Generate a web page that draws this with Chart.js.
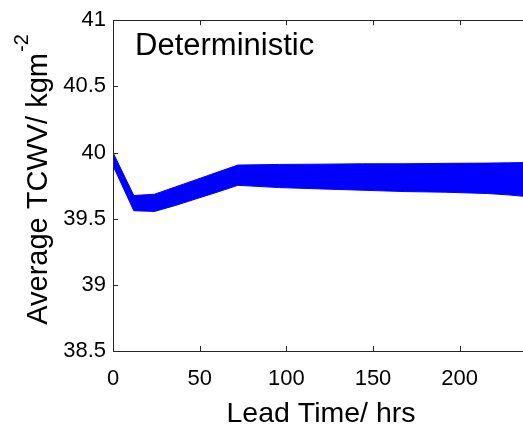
<!DOCTYPE html>
<html>
<head>
<meta charset="utf-8">
<script src="https://cdn.jsdelivr.net/npm/chart.js@4"></script>
<style>
html,body{margin:0;padding:0;background:#fff;overflow:hidden;width:523px;height:426px;}
#wrap{width:545px;height:426px;}
</style>
</head>
<body>
<div id="wrap"><canvas id="c" width="545" height="426"></canvas></div>
<script>
// ---- data ----
const leadTimes = [0, 12, 24, 36, 48, 60, 72, 96, 120, 144, 168, 192, 216, 228, 240];
const upperTCWV = [40.0, 39.675, 39.685, 39.74, 39.795, 39.85, 39.905, 39.91, 39.912, 39.915, 39.915, 39.918, 39.92, 39.922, 39.925];
const lowerTCWV = [39.90, 39.56, 39.555, 39.60, 39.65, 39.70, 39.752, 39.735, 39.725, 39.715, 39.705, 39.70, 39.69, 39.68, 39.665];
const xTicks = [0, 50, 100, 150, 200];
const yTicks = [38.5, 39, 39.5, 40, 40.5, 41];
const panelLabel = 'Deterministic';
const xTitle = 'Lead Time/ hrs';
const yTitleMain = 'Average TCWV/ kgm';
const yTitleSup = '-2';

const FONT = '"Liberation Sans", Arial, Helvetica, sans-serif';
const BLUE = '#0000ff';
const AXIS = '#262626';

const toPts = arr => leadTimes.map((t, i) => ({x: t, y: arr[i]}));

const framePlugin = {
  id: 'frame',
  afterDraw(chart) {
    const ctx = chart.ctx;
    const {left, right, top, bottom} = chart.chartArea;
    const xs = chart.scales.x, ys = chart.scales.y;
    ctx.save();
    ctx.strokeStyle = AXIS;
    ctx.lineWidth = 1;
    ctx.beginPath();
    ctx.rect(Math.round(left) + 0.5, Math.round(top) + 0.5, Math.round(right - left), Math.round(bottom - top));
    ctx.stroke();
    const tl = 5;
    ctx.beginPath();
    xTicks.forEach(v => {
      const px = Math.round(xs.getPixelForValue(v)) + 0.5;
      ctx.moveTo(px, bottom); ctx.lineTo(px, bottom - tl);
      ctx.moveTo(px, top); ctx.lineTo(px, top + tl);
    });
    yTicks.forEach(v => {
      const py = Math.round(ys.getPixelForValue(v)) + 0.5;
      ctx.moveTo(left, py); ctx.lineTo(left + tl, py);
      ctx.moveTo(right, py); ctx.lineTo(right - tl, py);
    });
    ctx.stroke();

    ctx.fillStyle = '#000';
    // panel label
    ctx.font = '31px ' + FONT;
    ctx.textAlign = 'left';
    ctx.textBaseline = 'alphabetic';
    ctx.fillText(panelLabel, 135, 55);
    // x title
    ctx.font = '28.5px ' + FONT;
    ctx.textAlign = 'center';
    ctx.fillText(xTitle, 321, 422);
    // y title (rotated, with superscript)
    ctx.translate(47, 180);
    ctx.rotate(-Math.PI / 2);
    ctx.font = '29px ' + FONT;
    const wMain = ctx.measureText(yTitleMain).width;
    ctx.font = '20px ' + FONT;
    const wSup = ctx.measureText(yTitleSup).width;
    const start = -(wMain + wSup) / 2;
    ctx.textAlign = 'left';
    ctx.font = '29px ' + FONT;
    ctx.fillText(yTitleMain, start, 0);
    ctx.font = '20px ' + FONT;
    ctx.fillText(yTitleSup, start + wMain + 1, -19);
    ctx.restore();
  }
};

new Chart(document.getElementById('c'), {
  type: 'line',
  data: {
    datasets: [
      {label: 'lower', data: toPts(lowerTCWV), borderColor: BLUE, backgroundColor: BLUE, borderWidth: 1, pointRadius: 0, fill: false, tension: 0},
      {label: 'upper', data: toPts(upperTCWV), borderColor: BLUE, backgroundColor: BLUE, borderWidth: 1, pointRadius: 0, fill: '-1', tension: 0}
    ]
  },
  options: {
    responsive: false,
    animation: false,
    events: [],
    layout: {padding: {left: 0, top: 15, right: 16, bottom: 0}},
    plugins: {legend: {display: false}, tooltip: {enabled: false}, title: {display: false}},
    scales: {
      x: {
        type: 'linear', min: 0, max: 240,
        afterBuildTicks: s => { s.ticks = xTicks.map(v => ({value: v})); },
        afterFit: s => { s.height = 75; },
        grid: {display: false, drawTicks: false},
        border: {display: false},
        ticks: {color: '#000', font: {family: FONT, size: 22}, padding: 15, maxRotation: 0, autoSkip: false, callback: v => String(v)}
      },
      y: {
        type: 'linear', min: 38.5, max: 41,
        afterBuildTicks: s => { s.ticks = yTicks.map(v => ({value: v})); },
        afterFit: s => { s.width = 113; },
        grid: {display: false, drawTicks: false},
        border: {display: false},
        ticks: {color: '#000', font: {family: FONT, size: 22}, padding: 7, autoSkip: false, callback: v => String(v)}
      }
    }
  },
  plugins: [framePlugin]
});
</script>
</body>
</html>
